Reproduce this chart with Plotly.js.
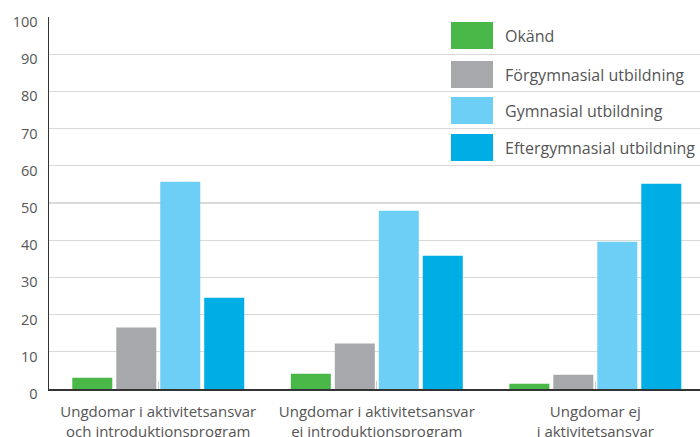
<!DOCTYPE html>
<html>
<head>
<meta charset="utf-8">
<script src="https://cdn.plot.ly/plotly-3.0.1.min.js"></script>
<style>html,body{margin:0;padding:0;background:#fff;}#chart{width:700px;height:437px;}</style>
</head>
<body>
<div id="chart"></div>
<script>
var categories = [
  "Ungdomar i aktivitetsansvar<br>och introduktionsprogram",
  "Ungdomar i aktivitetsansvar<br>ej introduktionsprogram",
  "Ungdomar ej<br>i aktivitetsansvar"
];
var seriesNames = ["Okänd", "Förgymnasial utbildning", "Gymnasial utbildning", "Eftergymnasial utbildning"];
var okand = [3.0, 4.1, 1.4];
var forgymnasial = [16.5, 12.2, 3.8];
var gymnasial = [55.7, 47.9, 39.6];
var eftergymnasial = [24.5, 35.8, 55.2];
var yTicks = [0, 10, 20, 30, 40, 50, 60, 70, 80, 90, 100];

var colors = ["#4ab848", "#a7a8ab", "#6dcff6", "#00aee6"];
var seriesValues = [okand, forgymnasial, gymnasial, eftergymnasial];

var idx = categories.map(function(_, i){ return i; });
var traces = seriesValues.map(function(vals, k){
  return {
    type: "bar",
    name: seriesNames[k],
    x: idx,
    y: vals,
    marker: {color: colors[k], line: {width: 0}},
    hoverinfo: "none"
  };
});

// legend drawn as shapes + annotations (large swatches)
var plotL = 49, plotR = 700, plotT = 17, plotB = 389;
var W = plotR - plotL, H = plotB - plotT;
function px(x){ return (x - plotL) / W; }
function py(y){ return (plotB - y) / H; }
var rowTops = [22, 61, 97, 134];
var shapes = [], annotations = [];
seriesNames.forEach(function(name, k){
  var t = rowTops[k];
  shapes.push({type: "rect", xref: "paper", yref: "paper",
    x0: px(451), x1: px(493), y0: py(t + 27), y1: py(t),
    fillcolor: colors[k], line: {width: 0}, layer: "above"});
  annotations.push({xref: "paper", yref: "paper", x: px(503), y: py(t + 14),
    xanchor: "left", yanchor: "middle", text: name, showarrow: false,
    font: {family: "Open Sans, sans-serif", size: 16, color: "#555555"}});
});

var layout = {
  width: 700, height: 437,
  margin: {l: plotL, r: 0, t: plotT, b: 437 - plotB, pad: 0},
  paper_bgcolor: "#ffffff", plot_bgcolor: "#ffffff",
  barmode: "group", bargap: 0.195, bargroupgap: 0.09,
  showlegend: false,
  font: {family: "Open Sans, sans-serif", color: "#555555"},
  xaxis: {
    range: [-0.5, 2.479],
    tickmode: "array", tickvals: idx, ticktext: categories,
    tickson: "boundaries", ticks: "inside", ticklen: 8, tickwidth: 1, tickcolor: "#cccccc",
    showgrid: false, zeroline: false,
    showline: true, linecolor: "#333333", linewidth: 2,
    ticklabelstandoff: 8,
    tickfont: {size: 15, color: "#555555"},
    fixedrange: true
  },
  yaxis: {
    range: [0, 100],
    tickmode: "array", tickvals: yTicks,
    showgrid: true, gridcolor: "#d9d9d9", gridwidth: 1.2,
    zeroline: false, showline: true, linecolor: "#333333", linewidth: 1.5,
    ticks: "", ticklabelstandoff: 7, ticklabelshift: 5,
    tickfont: {size: 14.5, color: "#555555"},
    fixedrange: true
  },
  shapes: shapes,
  annotations: annotations
};

Plotly.newPlot("chart", traces, layout, {displayModeBar: false, staticPlot: true});
</script>
</body>
</html>
